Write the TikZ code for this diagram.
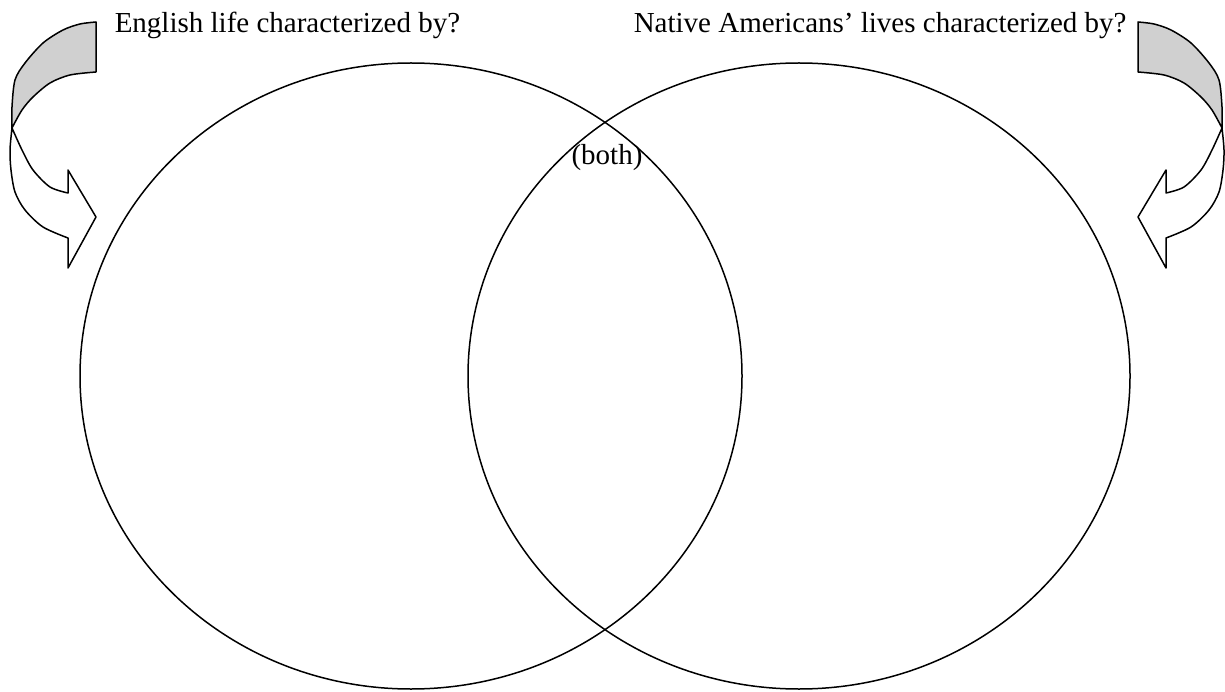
\documentclass[tikz,border=0pt]{standalone}
\usepackage{fontspec}
\setmainfont{Liberation Serif}
\usetikzlibrary{shapes.geometric}
\definecolor{curlgray}{HTML}{D0D0D0}

\tikzset{
  ring/.style={draw,ellipse,minimum width=662pt,minimum height=626pt,inner sep=0pt},
  curlback/.style={fill=curlgray,draw},
  curlfront/.style={fill=white,draw},
  heading/.style={anchor=base west,inner sep=0pt,font=\fontsize{29}{33}\selectfont},
}

\begin{document}
\begin{tikzpicture}[x=1pt,y=-1pt,line width=1.5pt,line join=round]
        \useasboundingbox (0,0) rectangle (1225,692);
        \node[ring] (english) at (411,376) {};
        \node[ring] (native) at (799,376) {};
        \node[heading] (englishtitle) at (114,33) {English life characterized by?};
        \node[heading] (nativetitle) at (633,33) {Native Americans’ lives characterized by?};
        \node[heading,anchor=base] (both) at (607,165) {(both)};
        % curled arrows, right one mirrored
        \foreach \sx/\dx in {1/0,-1/1234}{
          \begin{scope}[xshift=\dx pt,xscale=\sx]
            \draw[curlback] (96,22) -- (96,72)
              -- plot[smooth] coordinates {(96,72) (70,75) (50,83) (33,97) (22,110) (12,128)}
              -- plot[smooth] coordinates {(12,128) (12,107) (15,80) (25,63) (43,43) (63,30) (80,24) (96,22)}
              -- cycle;
            \draw[curlfront] plot[smooth] coordinates {(12,128) (10,150) (11,170) (15,192) (25,210) (43,227) (68,238)}
              -- (68,268) -- (96,217) -- (68,170) -- (68,193)
              -- plot[smooth] coordinates {(68,193) (50,187) (33,170) (22,150) (12,128)}
              -- cycle;
          \end{scope}
        }
      \end{tikzpicture}
\end{document}
